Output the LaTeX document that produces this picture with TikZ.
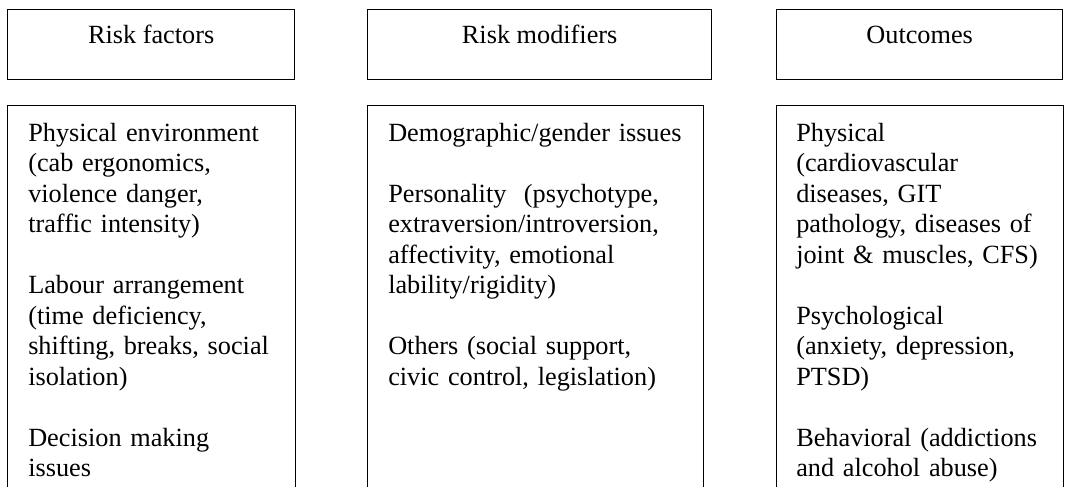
\documentclass[tikz,border=0pt]{standalone}
\usepackage{fontspec}
\setmainfont{Liberation Serif}
\newcommand\diagfont{\fontsize{19.7}{22.9}\selectfont}
\begin{document}
\begin{tikzpicture}[x=0.75pt, y=-0.75pt,
    headbox/.style={draw, line width=1pt, anchor=north west, inner sep=0pt,
        text height=25.5pt, text depth=27pt, font=\diagfont},
    bodybox/.style={draw, line width=1pt, anchor=north west, inner sep=0pt,
        minimum height=320pt},
    bodytext/.style={anchor=base west, inner sep=0pt, align=left,
        text width=240pt, font=\diagfont}]
    \useasboundingbox (0,0) rectangle (1067,486);
    \clip (0,0) rectangle (1067,486);

    % column headings
    \node[headbox, minimum width=215.25pt] (factors) at (7,9) {Risk factors};
    \node[headbox, minimum width=258pt] (modifiers) at (367,9) {Risk modifiers};
    \node[headbox, minimum width=214.5pt] (outcomes) at (776,9) {Outcomes};

    % column bodies (open at the bottom)
    \node[bodybox, minimum width=216pt] (factorsBox) at (7,105) {};
    \node[bodybox, minimum width=252pt] (modifiersBox) at (367,105) {};
    \node[bodybox, minimum width=215.25pt] (outcomesBox) at (776,105) {};

    \node[bodytext] (factorsText) at ([xshift=15.75pt, yshift=-27pt]factorsBox.north west)
        {Physical environment\\ (cab ergonomics,\\ violence danger,\\ traffic intensity)\\[22.9pt]
         Labour arrangement\\ (time deficiency,\\ shifting, breaks, social\\ isolation)\\[22.9pt]
         Decision making\\ issues};
    \node[bodytext] (modifiersText) at ([xshift=15.75pt, yshift=-27pt]modifiersBox.north west)
        {Demographic/gender issues\\[22.9pt]
         Personality~ (psychotype,\\ extraversion/introversion,\\ affectivity, emotional\\ lability/rigidity)\\[22.9pt]
         Others (social support,\\ civic control, legislation)};
    \node[bodytext] (outcomesText) at ([xshift=15pt, yshift=-27pt]outcomesBox.north west)
        {Physical\\ (cardiovascular\\ diseases, GIT\\ pathology, diseases of\\ joint \& muscles, CFS)\\[22.9pt]
         Psychological\\ (anxiety, depression,\\ PTSD)\\[22.9pt]
         Behavioral (addictions\\ and alcohol abuse)};
\end{tikzpicture}
\end{document}
